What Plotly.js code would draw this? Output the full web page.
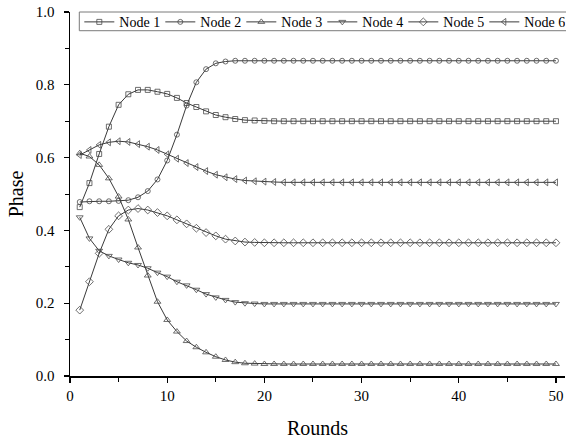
<!DOCTYPE html>
<html>
<head>
<meta charset="utf-8">
<script src="https://cdn.plot.ly/plotly-3.0.1.min.js"></script>
<style>html,body{margin:0;padding:0;background:#fff;}#chart{width:566px;height:439px;}</style>
</head>
<body>
<div id="chart"></div>
<script>
const rounds = [1,2,3,4,5,6,7,8,9,10,11,12,13,14,15,16,17,18,19,20,21,22,23,24,25,26,27,28,29,30,31,32,33,34,35,36,37,38,39,40,41,42,43,44,45,46,47,48,49,50];

const node1 = [0.464,0.530,0.610,0.685,0.745,0.774,0.786,0.786,0.781,0.775,0.764,0.750,0.739,0.727,0.717,0.711,0.706,0.703,0.702,0.701,
  0.700,0.700,0.700,0.700,0.700,0.700,0.700,0.700,0.700,0.700,0.700,0.700,0.700,0.700,0.700,0.700,0.700,0.700,0.700,0.700,
  0.700,0.700,0.700,0.700,0.700,0.700,0.700,0.700,0.700,0.700];
const node2 = [0.478,0.480,0.480,0.480,0.481,0.483,0.491,0.508,0.540,0.592,0.663,0.743,0.807,0.843,0.859,0.864,0.866,0.866,0.866,0.866,
  0.866,0.866,0.866,0.866,0.866,0.866,0.866,0.866,0.866,0.866,0.866,0.866,0.866,0.866,0.866,0.866,0.866,0.866,0.866,0.866,
  0.866,0.866,0.866,0.866,0.866,0.866,0.866,0.866,0.866,0.866];
const node3 = [0.612,0.603,0.580,0.543,0.493,0.430,0.353,0.276,0.204,0.154,0.122,0.096,0.079,0.065,0.053,0.044,0.038,0.035,0.034,0.033,
  0.033,0.033,0.033,0.033,0.033,0.033,0.033,0.033,0.033,0.033,0.033,0.033,0.033,0.033,0.033,0.033,0.033,0.033,0.033,0.033,
  0.033,0.033,0.033,0.033,0.033,0.033,0.033,0.033,0.033,0.033];
const node4 = [0.436,0.378,0.344,0.330,0.320,0.311,0.305,0.296,0.284,0.273,0.259,0.249,0.237,0.225,0.216,0.209,0.203,0.200,0.199,0.198,
  0.198,0.198,0.198,0.198,0.198,0.198,0.198,0.198,0.198,0.198,0.198,0.198,0.198,0.198,0.198,0.198,0.198,0.198,0.198,0.198,
  0.198,0.198,0.198,0.198,0.198,0.198,0.198,0.198,0.198,0.198];
const node5 = [0.181,0.259,0.337,0.403,0.440,0.456,0.460,0.456,0.449,0.440,0.429,0.418,0.406,0.394,0.385,0.376,0.371,0.368,0.367,0.366,
  0.366,0.366,0.366,0.366,0.366,0.366,0.366,0.366,0.366,0.366,0.366,0.366,0.366,0.366,0.366,0.366,0.366,0.366,0.366,0.366,
  0.366,0.366,0.366,0.366,0.366,0.366,0.366,0.366,0.366,0.366];
const node6 = [0.607,0.621,0.635,0.642,0.645,0.643,0.637,0.630,0.621,0.609,0.597,0.585,0.574,0.563,0.553,0.546,0.541,0.537,0.535,0.534,
  0.533,0.532,0.532,0.532,0.532,0.532,0.532,0.532,0.532,0.532,0.532,0.532,0.532,0.532,0.532,0.532,0.532,0.532,0.532,0.532,
  0.532,0.532,0.532,0.532,0.532,0.532,0.532,0.532,0.532,0.532];

const seriesNames = ['Node 1','Node 2','Node 3','Node 4','Node 5','Node 6'];
const seriesValues = [node1, node2, node3, node4, node5, node6];
const symbols = ['square-open','circle-open','triangle-up-open','triangle-down-open','diamond-open','triangle-left-open'];
const sizes = [5, 5, 6, 6, 6, 6];

const FONT = '"Liberation Serif", "Times New Roman", serif';

const traces = seriesNames.map((name, i) => ({
  type: 'scatter',
  mode: 'lines+markers',
  name: name,
  x: rounds,
  y: seriesValues[i],
  line: {color: '#3a3a3a', width: 1},
  marker: {symbol: symbols[i], size: sizes[i], color: '#4a4a4a', line: {width: 0.8, color: '#4a4a4a'}}
}));

const layout = {
  width: 566, height: 439,
  margin: {l: 70, r: 1, t: 12, b: 63, autoexpand: false},
  paper_bgcolor: '#ffffff', plot_bgcolor: '#ffffff',
  font: {family: FONT, color: '#000000', size: 15},
  showlegend: true,
  legend: {
    orientation: 'h',
    x: 0.0188, xanchor: 'left',
    y: 1.0157, yanchor: 'top',
    bgcolor: 'rgba(0,0,0,0)',
    borderwidth: 0,
    font: {family: FONT, size: 14, color: '#000000'},
    entrywidth: 36,
    itemwidth: 30
  },
  shapes: [{
    type: 'rect', xref: 'paper', yref: 'paper', layer: 'above',
    x0: 0.0188, x1: 1.08, y0: 0.9486, y1: 1.0,
    line: {color: '#7a7a7a', width: 1}, fillcolor: '#ffffff'
  }],
  xaxis: {
    range: [0, 50.93],
    showgrid: false, zeroline: false,
    showline: true, linecolor: '#000000', linewidth: 1.5,
    ticks: 'outside', ticklen: 5, tickwidth: 1.2, tickcolor: '#000000',
    dtick: 10, tick0: 0,
    tickfont: {family: FONT, size: 15, color: '#000000'},
    minor: {dtick: 5, ticks: 'outside', ticklen: 4, tickwidth: 1, tickcolor: '#000000', showgrid: false},
    title: {text: 'Rounds', font: {family: FONT, size: 20, color: '#000000'}, standoff: 18}
  },
  yaxis: {
    range: [0, 1],
    showgrid: false, zeroline: false,
    showline: true, linecolor: '#000000', linewidth: 1.5,
    ticks: 'outside', ticklen: 5, tickwidth: 1.2, tickcolor: '#000000',
    dtick: 0.2, tick0: 0, tickformat: '.1f',
    ticklabelstandoff: 6,
    tickfont: {family: FONT, size: 15, color: '#000000'},
    minor: {dtick: 0.1, ticks: 'outside', ticklen: 4, tickwidth: 1, tickcolor: '#000000', showgrid: false},
    title: {text: 'Phase', font: {family: FONT, size: 20, color: '#000000'}, standoff: 7}
  }
};

Plotly.newPlot('chart', traces, layout, {displayModeBar: false, staticPlot: true});
</script>
</body>
</html>
